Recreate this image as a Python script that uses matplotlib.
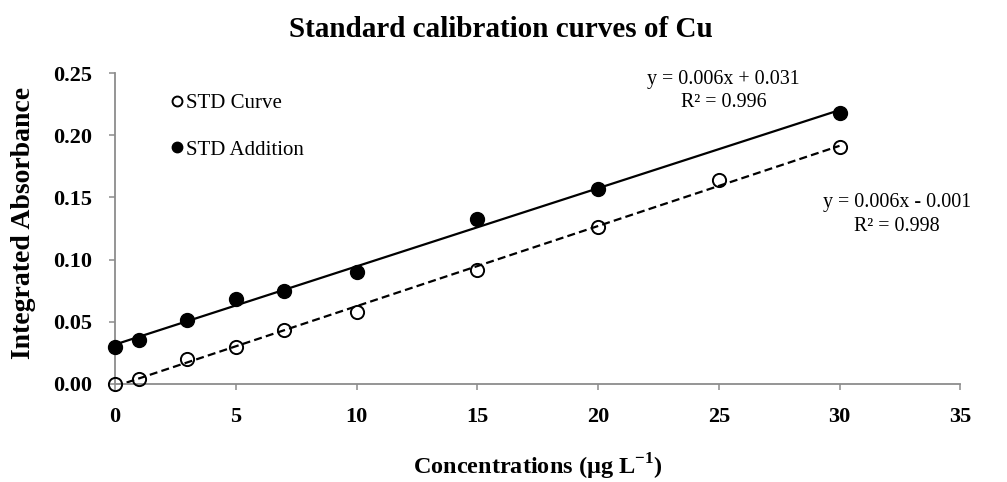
import numpy as np
import matplotlib
matplotlib.use("Agg")
import matplotlib.pyplot as plt

plt.rcParams["font.family"] = ["Liberation Serif", "DejaVu Serif"]
plt.rcParams["mathtext.fontset"] = "custom"
plt.rcParams["mathtext.rm"] = "Liberation Serif"
plt.rcParams["mathtext.bf"] = "Liberation Serif:bold"

# Standard curve (open circles)
curve_x = [0, 1, 3, 5, 7, 10, 15, 20, 25, 30]
curve_y = [0.000, 0.004, 0.020, 0.030, 0.043, 0.058, 0.092, 0.126, 0.164, 0.191]

# Standard addition (filled circles)
add_x = [0, 1, 3, 5, 7, 10, 15, 20, 30]
add_y = [0.030, 0.035, 0.051, 0.068, 0.075, 0.090, 0.133, 0.157, 0.218]

x_ticks = [0, 5, 10, 15, 20, 25, 30, 35]
y_ticks = [0.00, 0.05, 0.10, 0.15, 0.20, 0.25]

fig = plt.figure(figsize=(10.07, 4.82), dpi=100)
ax = fig.add_axes([0.1142, 0.2037, 0.8394, 0.6443])

# trendlines (linear fit of each series)
fx = np.array([0, 30])
p_add = np.polyfit(add_x, add_y, 1)
p_cur = np.polyfit(curve_x, curve_y, 1)
ax.plot(fx, np.polyval(p_add, fx), color="black", lw=1.6, zorder=2)
ax.plot(fx, np.polyval(p_cur, fx), color="black", lw=1.6, ls=(0, (3.6, 1.9)), zorder=2)

ax.plot(curve_x, curve_y, "o", ms=9.5, mfc="none", mec="black", mew=1.4,
        label="STD Curve", clip_on=False, zorder=3)
ax.plot(add_x, add_y, "o", ms=10, mfc="black", mec="black",
        label="STD Addition", clip_on=False, zorder=3)

ax.set_xlim(0, 35)
ax.set_ylim(0, 0.25)
ax.set_xticks(x_ticks)
ax.set_yticks(y_ticks)
ax.set_yticklabels([f"{v:.2f}" for v in y_ticks])

for s in ["top", "right"]:
    ax.spines[s].set_visible(False)
for s in ["left", "bottom"]:
    ax.spines[s].set_color("#8c8c8c")
    ax.spines[s].set_linewidth(1.3)

ax.tick_params(axis="both", colors="#8c8c8c", length=4.5, width=1.1,
               labelcolor="black", labelsize=16)
ax.tick_params(axis="x", pad=12)
ax.tick_params(axis="y", pad=12)
for lbl in ax.get_xticklabels() + ax.get_yticklabels():
    lbl.set_fontweight("bold")

ax.set_xlabel("Concentrations (µg L$^{\\mathbf{-1}}$)", fontsize=17.5, fontweight="bold", labelpad=18)
ax.set_ylabel("Integrated Absorbance", fontsize=20, fontweight="bold")
ax.yaxis.set_label_coords(-0.0935, 0.518)
fig.text(0.497, 0.938, "Standard calibration curves of Cu", ha="center", va="center",
         fontsize=21, fontweight="bold")

ax.legend(loc="upper left", bbox_to_anchor=(0.0455, 0.996), frameon=False, fontsize=15,
          handlelength=0.5, handletextpad=0.15, labelspacing=1.3, markerscale=0.75)

ax.text(25.2, 0.2355, "y = 0.006x + 0.031\nR² = 0.996", ha="center", va="center",
        fontsize=14.4, linespacing=1.3)
ax.text(32.37, 0.1363, "y = 0.006x - 0.001\nR² = 0.998", ha="center", va="center",
        fontsize=14.4, linespacing=1.3, clip_on=False)

fig.savefig("out.png", dpi=100)
